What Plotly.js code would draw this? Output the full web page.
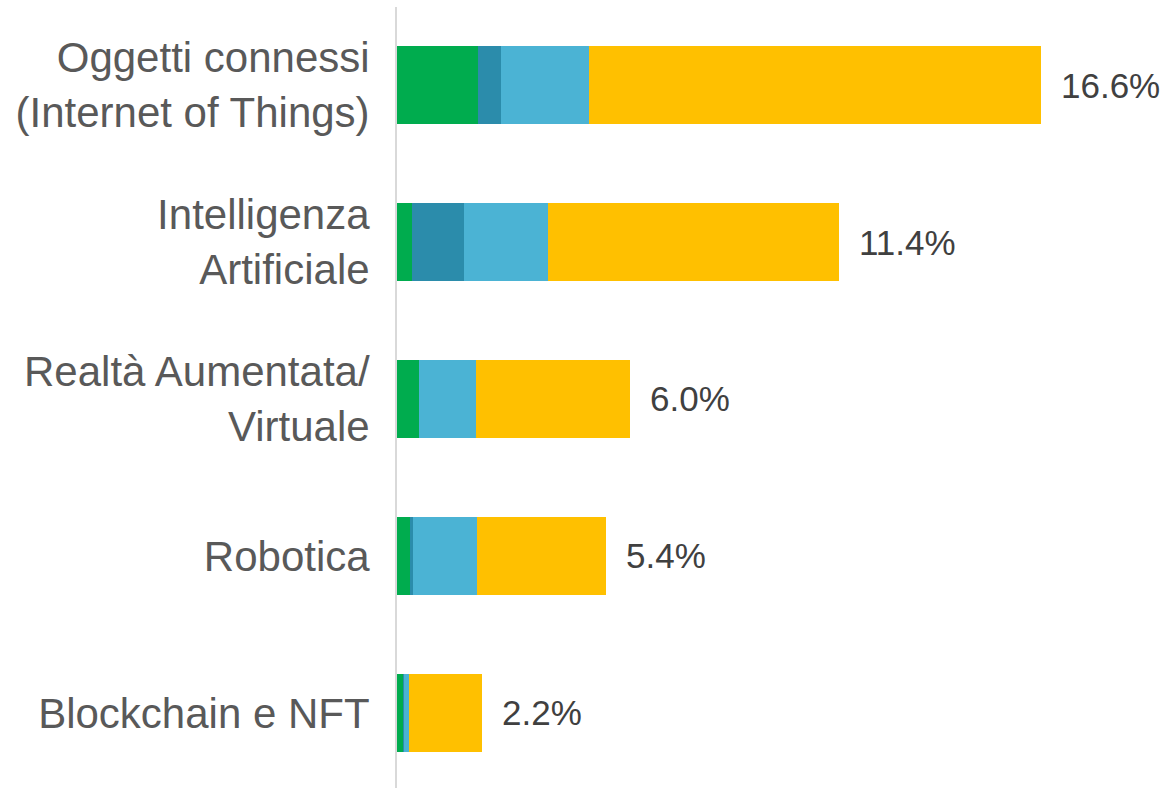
<!DOCTYPE html>
<html>
<head>
<meta charset="utf-8">
<script src="https://cdn.plot.ly/plotly-3.0.1.min.js"></script>
<style>html,body{margin:0;padding:0;background:#fff;}#chart{width:1168px;height:788px;}</style>
</head>
<body>
<div id="chart"></div>
<script>
const categories = ["Oggetti connessi<br>(Internet of Things)", "Intelligenza<br>Artificiale", "Realtà Aumentata/<br>Virtuale", "Robotica", "Blockchain e NFT"];
const seriesGreen = [2.08, 0.38, 0.57, 0.33, 0.15];
const seriesTeal = [0.59, 1.34, 0.0, 0.09, 0.04];
const seriesLightBlue = [2.27, 2.17, 1.46, 1.65, 0.13];
const seriesYellow = [11.66, 7.51, 3.97, 3.33, 1.88];
const totals = [16.6, 11.4, 6.0, 5.4, 2.2];
const totalLabels = ["16.6%", "11.4%", "6.0%", "5.4%", "2.2%"];

const colors = ["#00ac4e", "#2b8cab", "#4bb3d4", "#ffc000"];
const seriesList = [seriesGreen, seriesTeal, seriesLightBlue, seriesYellow];

const traces = seriesList.map((vals, i) => ({
  type: "bar",
  orientation: "h",
  y: categories,
  x: vals,
  marker: {color: colors[i], line: {width: 0}},
  width: 0.5,
  hoverinfo: "x+y",
  showlegend: false
}));

const annotations = categories.map((c, i) => ({
  x: totals[i],
  y: c,
  xref: "x",
  yref: "y",
  text: totalLabels[i],
  showarrow: false,
  xanchor: "left",
  yanchor: "middle",
  xshift: 18,
  font: {family: "Liberation Sans, Arial, sans-serif", size: 35, color: "#404040"}
}));

const layout = {
  width: 1168,
  height: 788,
  margin: {l: 397, r: 34, t: 7, b: 0},
  paper_bgcolor: "#ffffff",
  plot_bgcolor: "#ffffff",
  barmode: "stack",
  bargap: 0.5,
  xaxis: {
    range: [0, 19],
    visible: false,
    showgrid: false,
    zeroline: false,
    fixedrange: true
  },
  yaxis: {
    type: "category",
    range: [4.478, -0.497],
    showgrid: false,
    zeroline: false,
    showline: true,
    linecolor: "#d9d9d9",
    linewidth: 2,
    ticks: "",
    ticklabelstandoff: 17,
    tickfont: {family: "Liberation Sans, Arial, sans-serif", size: 42, color: "#595959"},
    fixedrange: true
  },
  annotations: annotations
};

Plotly.newPlot("chart", traces, layout, {displayModeBar: false, staticPlot: true});
</script>
</body>
</html>
